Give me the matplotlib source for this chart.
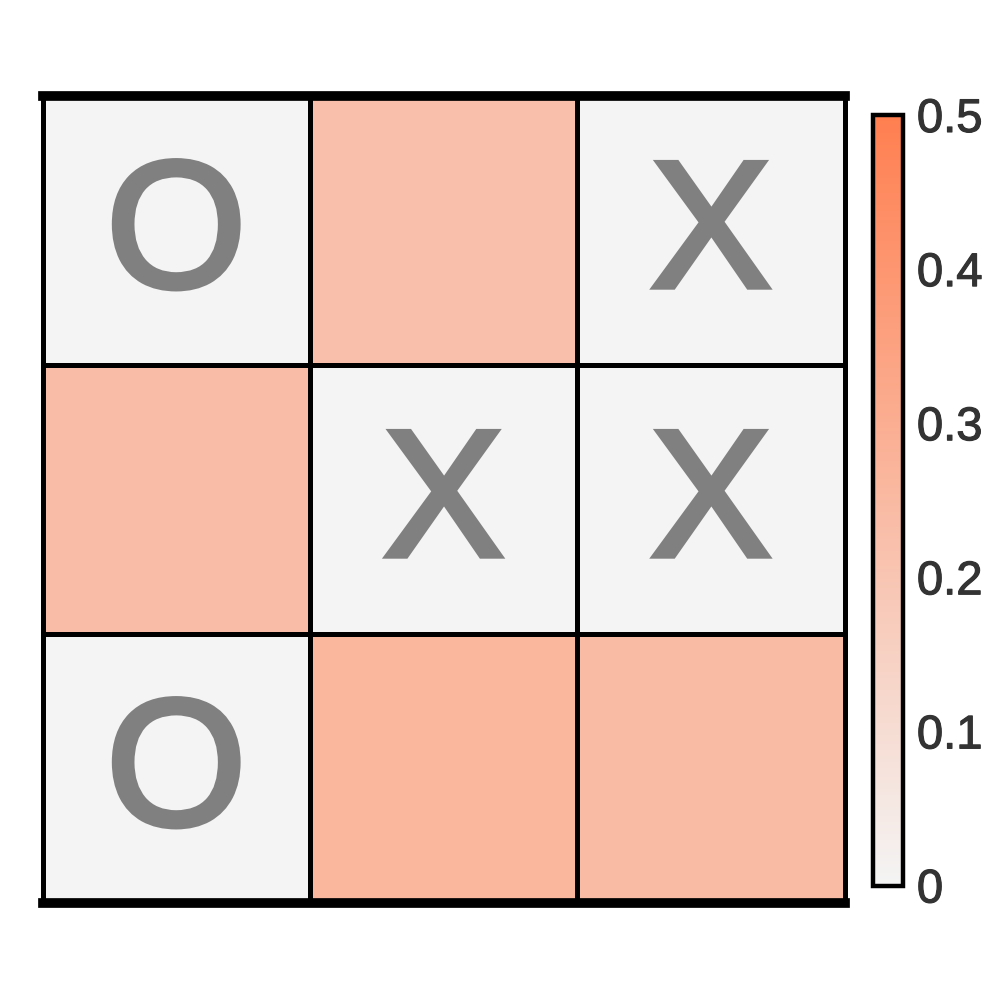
import numpy as np
import matplotlib
matplotlib.use('Agg')
import matplotlib.pyplot as plt
import matplotlib.patheffects as pe
from matplotlib.colors import LinearSegmentedColormap, Normalize
import matplotlib.colorbar as mcolorbar

plt.rcParams['font.family'] = ['Liberation Sans', 'DejaVu Sans']

# board state (row 0 = top)
marks = [["O", "", "X"],
         ["", "X", "X"],
         ["O", "", ""]]
# probability for each empty cell (occupied cells = 0)
probs = np.array([[0.00, 0.226, 0.00],
                  [0.240, 0.00, 0.00],
                  [0.00, 0.262, 0.245]])
cbar_ticks = [0, 0.1, 0.2, 0.3, 0.4, 0.5]
cbar_labels = ["0", "0.1", "0.2", "0.3", "0.4", "0.5"]

cmap = LinearSegmentedColormap.from_list("board", ["#f4f4f4", "#ff7f50"])
norm = Normalize(vmin=0, vmax=0.5)

fig = plt.figure(figsize=(10, 10), dpi=100)
ax = fig.add_axes([0.0425, 0.097, 0.802, 0.807])
ax.pcolormesh(probs, cmap=cmap, norm=norm, edgecolors='black', linewidth=3.4, clip_on=False)
ax.set_xlim(0, 3); ax.set_ylim(3, 0)
for sp in ax.spines.values():
    sp.set_visible(False)
ax.axhline(0, color='black', lw=7, clip_on=False)
ax.axhline(3, color='black', lw=7, clip_on=False)
ax.set_xticks([]); ax.set_yticks([])

for r in range(3):
    for c in range(3):
        if marks[r][c]:
            ax.text(c + 0.5, r + 0.535, marks[r][c], ha='center', va='center',
                    fontsize=130, color='#808080',
                    path_effects=[pe.withStroke(linewidth=4, foreground='#808080',
                                                joinstyle='miter')])

cax = fig.add_axes([0.873, 0.1145, 0.030, 0.7705])
cb = mcolorbar.ColorbarBase(cax, cmap=cmap, norm=norm)
cb.outline.set_linewidth(3.2)
cb.set_ticks(cbar_ticks)
cb.set_ticklabels(cbar_labels)
cax.tick_params(length=0, pad=10, labelsize=34, labelcolor='#333333')
for t in cax.get_yticklabels():
    t.set_path_effects([pe.withStroke(linewidth=0.8, foreground='#333333')])

fig.savefig('out.png', dpi=100)
